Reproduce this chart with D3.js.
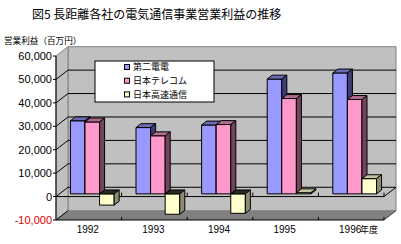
<!DOCTYPE html>
<html lang="ja">
<head>
<meta charset="utf-8">
<title>長距離各社の電気通信事業営業利益の推移</title>
<script src="https://d3js.org/d3.v7.min.js"></script>
<style>
  body { margin: 0; background: #fff; }
  text { font-family: "Noto Sans CJK JP", sans-serif; }
  .num { font-family: "Liberation Sans", Arial, sans-serif; }
</style>
</head>
<body>
<div id="chart"></div>
<script>
// data (百万円)
var categories = ["1992", "1993", "1994", "1995", "1996"];
var seriesNames = ["第二電電", "日本テレコム", "日本高速通信"];
var ddi = [31200, 28300, 29400, 49000, 51600];
var jt = [30700, 24800, 29600, 40700, 40300];
var tws = [-4800, -8700, -8300, 500, 6500];
var yTicks = [-10000, 0, 10000, 20000, 30000, 40000, 50000, 60000];

var series = [ddi, jt, tws];
var colors = [
  {front: "#9999ff", top: "#6b6bb3", side: "#3d3d73"},
  {front: "#ff99cc", top: "#b36b8f", side: "#73455c"},
  {front: "#ffffcc", top: "#c4c49c", side: "#8c8c70"}
];

var w = 401, h = 244;
var DX = 12, DY = -9.3;       // full depth offset of the 3d box
var zF = 0.29, zB = 0.71;      // depth of bar front / back faces

var svg = d3.select("#chart").append("svg")
  .attr("width", w).attr("height", h);

var y = d3.scaleLinear().domain([-10000, 60000]).range([220, 56]);
var x0 = d3.scaleBand().domain(categories).range([56, 384]);
var x1 = d3.scaleBand().domain(d3.range(series.length))
  .range([0, x0.bandwidth()]).paddingInner(0).paddingOuter(0.75);

function P(x, v, z) { return [x + DX * z, y(v) + DY * z]; }
function poly(pts) { return pts.map(function(p){ return p.join(","); }).join(" "); }

var yMin = y.domain()[0], yMax = y.domain()[1];
var xL = x0.range()[0], xR = x0.range()[1];

//walls and floor
svg.append("polygon")
  .attr("points", poly([P(xL, yMax, 1), P(xR, yMax, 1), P(xR, yMin, 1), P(xL, yMin, 1)]))
  .attr("fill", "#c0c0c0").attr("stroke", "#808080");
svg.append("polygon")
  .attr("points", poly([P(xL, yMax, 0), P(xL, yMax, 1), P(xL, yMin, 1), P(xL, yMin, 0)]))
  .attr("fill", "#c0c0c0").attr("stroke", "#808080");
svg.append("polygon")
  .attr("points", poly([P(xL, yMin, 0), P(xR, yMin, 0), P(xR, yMin, 1), P(xL, yMin, 1)]))
  .attr("fill", "#808080");

//gridlines on back wall
svg.selectAll("line.grid")
  .data(yTicks.filter(function(t){ return t > yMin && t < yMax; }))
  .enter().append("line")
  .attr("class", "grid")
  .attr("x1", function(){ return P(xL, 0, 1)[0]; })
  .attr("x2", function(){ return P(xR, 0, 1)[0]; })
  .attr("y1", function(d){ return P(xL, d, 1)[1]; })
  .attr("y2", function(d){ return P(xL, d, 1)[1]; })
  .attr("stroke", "#000");

//gridlines on side wall
svg.selectAll("line.side")
  .data(yTicks.filter(function(t){ return t < yMax; }))
  .enter().append("line")
  .attr("class", "side")
  .attr("x1", xL).attr("y1", function(d){ return y(d); })
  .attr("x2", function(){ return P(xL, 0, 1)[0]; })
  .attr("y2", function(d){ return P(xL, d, 1)[1]; })
  .attr("stroke", "#000");

//floor right edge
svg.append("line")
  .attr("x1", xR).attr("y1", y(yMin))
  .attr("x2", P(xR, yMin, 1)[0]).attr("y2", P(xR, yMin, 1)[1])
  .attr("stroke", "#404040");

//zero line at front with ticks
var bounds = categories.map(function(c){ return x0(c); }).concat([xR]);
svg.append("line")
  .attr("x1", xL).attr("x2", xR).attr("y1", y(0)).attr("y2", y(0))
  .attr("stroke", "#000");
svg.append("line")
  .attr("x1", xR).attr("y1", y(0))
  .attr("x2", P(xR, 0, 1)[0]).attr("y2", P(xR, 0, 1)[1])
  .attr("stroke", "#000");
svg.selectAll("line.ztick")
  .data(bounds.slice(1))
  .enter().append("line")
  .attr("class", "ztick")
  .attr("x1", function(d){ return d; }).attr("x2", function(d){ return d; })
  .attr("y1", y(0)).attr("y2", y(0) - 4)
  .attr("stroke", "#000");

//bottom axis
svg.append("line")
  .attr("x1", xL).attr("x2", xR).attr("y1", y(yMin)).attr("y2", y(yMin))
  .attr("stroke", "#000");
svg.selectAll("line.xtick")
  .data(bounds.slice(1))
  .enter().append("line")
  .attr("class", "xtick")
  .attr("x1", function(d){ return d; }).attr("x2", function(d){ return d; })
  .attr("y1", y(yMin)).attr("y2", y(yMin) - 3)
  .attr("stroke", "#000");

//value axis
svg.append("line")
  .attr("x1", xL).attr("x2", xL).attr("y1", y(yMax)).attr("y2", y(yMin))
  .attr("stroke", "#000");
svg.selectAll("line.ytick")
  .data(yTicks)
  .enter().append("line")
  .attr("class", "ytick")
  .attr("x1", xL - 3).attr("x2", xL)
  .attr("y1", function(d){ return y(d); }).attr("y2", function(d){ return y(d); })
  .attr("stroke", "#000");

svg.selectAll("text.ylab")
  .data(yTicks)
  .enter().append("text")
  .attr("class", "ylab num")
  .attr("x", 52)
  .attr("y", function(d){ return y(d) + 4; })
  .attr("text-anchor", "end")
  .attr("font-size", "11px")
  .attr("fill", function(d){ return d < 0 ? "#e00000" : "#000"; })
  .text(function(d){ return d3.format(",")(d).replace("−", "-"); });

//bars
var bars = [];
categories.forEach(function(c, i){
  series.forEach(function(s, j){
    bars.push({cat: c, s: j, v: s[i]});
  });
});

var g = svg.selectAll("g.bar")
  .data(bars)
  .enter().append("g")
  .attr("class", "bar")
  .attr("stroke", "#000")
  .attr("stroke-width", 1);

g.each(function(d){
  var a = x0(d.cat) + x1(d.s), b = a + x1.bandwidth();
  var top = Math.max(d.v, 0), bot = Math.min(d.v, 0);
  var sel = d3.select(this);
  sel.append("polygon")
    .attr("points", poly([P(a, top, zF), P(b, top, zF), P(b, bot, zF), P(a, bot, zF)]))
    .attr("fill", colors[d.s].front);
  sel.append("polygon")
    .attr("points", poly([P(a, top, zF), P(b, top, zF), P(b, top, zB), P(a, top, zB)]))
    .attr("fill", d.v < 0 ? "#2a2a20" : colors[d.s].top);
  sel.append("polygon")
    .attr("points", poly([P(b, top, zF), P(b, top, zB), P(b, bot, zB), P(b, bot, zF)]))
    .attr("fill", colors[d.s].side);
});

//category labels
svg.selectAll("text.xlab")
  .data(categories)
  .enter().append("text")
  .attr("class", "xlab num")
  .attr("x", function(d){ return x0(d) + x0.bandwidth() / 2 - 1; })
  .attr("y", 233)
  .attr("text-anchor", "middle")
  .attr("font-size", "10px")
  .text(function(d){ return d; });

svg.append("text")
  .attr("x", 360).attr("y", 233)
  .attr("font-size", "9px")
  .text("年度");

//titles
svg.append("text")
  .attr("x", 32).attr("y", 19)
  .attr("font-size", "12px")
  .text("図5 長距離各社の電気通信事業営業利益の推移");

svg.append("text")
  .attr("x", 4).attr("y", 44)
  .attr("font-size", "8.6px")
  .text("営業利益（百万円）");

//legend
var legend = svg.append("g");
legend.append("rect")
  .attr("x", 95).attr("y", 61).attr("width", 119).attr("height", 41)
  .attr("fill", "#fff").attr("stroke", "#000");
var items = legend.selectAll("g.item")
  .data(seriesNames)
  .enter().append("g")
  .attr("class", "item")
  .attr("transform", function(d, i){ return "translate(124," + (67 + i * 13.7) + ")"; });
items.append("rect")
  .attr("x", 0.5).attr("y", -2.5).attr("width", 5).attr("height", 5)
  .attr("fill", function(d, i){ return colors[i].front; })
  .attr("stroke", "#000");
items.append("text")
  .attr("x", 9).attr("y", 3.3)
  .attr("font-size", "9px")
  .text(function(d){ return d; });
</script>
</body>
</html>
